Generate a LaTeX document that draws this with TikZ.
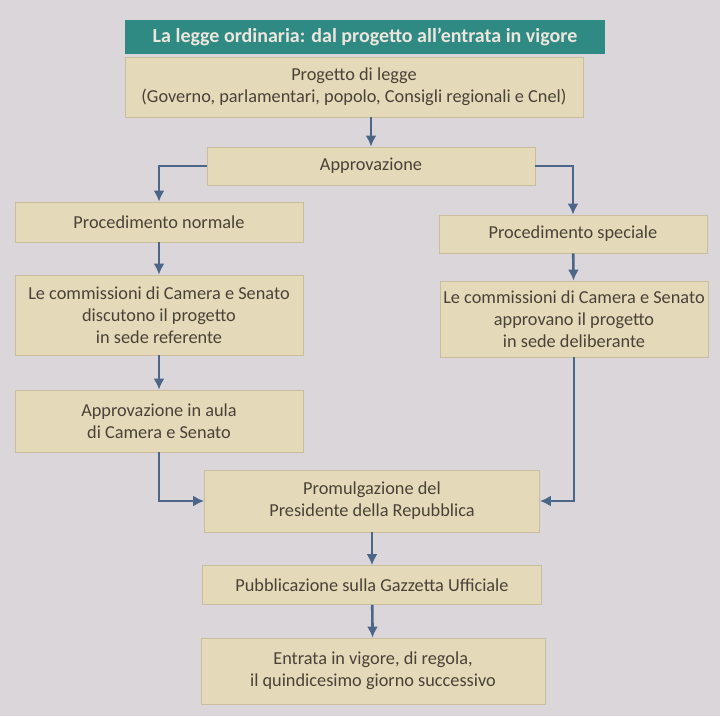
\documentclass[tikz,border=0pt]{standalone}
\usepackage{fontspec}
\setmainfont{Carlito}
\usetikzlibrary{arrows.meta}
\definecolor{page}{HTML}{DAD6DA}
\definecolor{boxfill}{HTML}{E4DAB9}
\definecolor{boxline}{HTML}{C9BD9C}
\definecolor{ink}{HTML}{4A4238}
\definecolor{arrowblue}{HTML}{4B6688}
\definecolor{titleteal}{HTML}{2E8A82}
\definecolor{titleink}{HTML}{ECE6DE}

\begin{document}
\begin{tikzpicture}[
  x=1pt,y=-1pt,
  font=\fontsize{18.3}{22}\selectfont,
  box/.style={draw=boxline,fill=boxfill,text=ink,align=center,inner sep=0pt,line width=0.8pt},
  title/.style={fill=titleteal,text=titleink,font=\fontsize{20}{22}\selectfont\bfseries,inner sep=0pt},
  flow/.style={-{Latex[length=11pt,width=11pt]},draw=arrowblue,line width=2.6pt}
]
  \fill[page] (0,0) rectangle (720,716);
  \useasboundingbox (0,0) rectangle (720,716);

  \node[title,minimum width=480,minimum height=34] (head) at (365,37) {La legge ordinaria: dal progetto all’entrata in vigore};
  \node[box,minimum width=458,minimum height=60] (progetto) at (354,87) {Progetto di legge\\(Governo, parlamentari, popolo, Consigli regionali e Cnel)};
  \node[box,minimum width=328,minimum height=38] (appr) at (371,166) {Approvazione};
  \node[box,minimum width=288,minimum height=40] (normale) at (159,222) {Procedimento normale};
  \node[box,minimum width=268,minimum height=38] (speciale) at (573,234) {Procedimento speciale};
  \node[box,minimum width=288,minimum height=80] (referente) at (159,315) {Le commissioni di Camera e Senato\\discutono il progetto\\in sede referente};
  \node[box,minimum width=268,minimum height=76] (deliberante) at (574,319) {Le commissioni di Camera e Senato\\approvano il progetto\\in sede deliberante};
  \node[box,minimum width=288,minimum height=62] (aula) at (159,421) {Approvazione in aula\\di Camera e Senato};
  \node[box,minimum width=335,minimum height=62] (prom) at (372,501) {Promulgazione del\\Presidente della Repubblica};
  \node[box,minimum width=339,minimum height=39] (gazzetta) at (372,585) {Pubblicazione sulla Gazzetta Ufficiale};
  \node[box,minimum width=344,minimum height=66] (vigore) at (373,671) {Entrata in vigore, di regola,\\il quindicesimo giorno successivo};

  \draw[flow] (appr.north |- progetto.south) -- (appr.north);
  \draw[flow] (appr.west) -| (normale.north);
  \draw[flow] (appr.east) -| (speciale.north);
  \draw[flow] (normale) -- (referente);
  \draw[flow] (speciale) -- (deliberante);
  \draw[flow] (referente) -- (aula);
  \draw[flow] (aula.south) |- (prom.west);
  \draw[flow] (deliberante.south) |- (prom.east);
  \draw[flow] (prom) -- (gazzetta);
  \draw[flow] (gazzetta) -- (vigore);
\end{tikzpicture}
\end{document}
